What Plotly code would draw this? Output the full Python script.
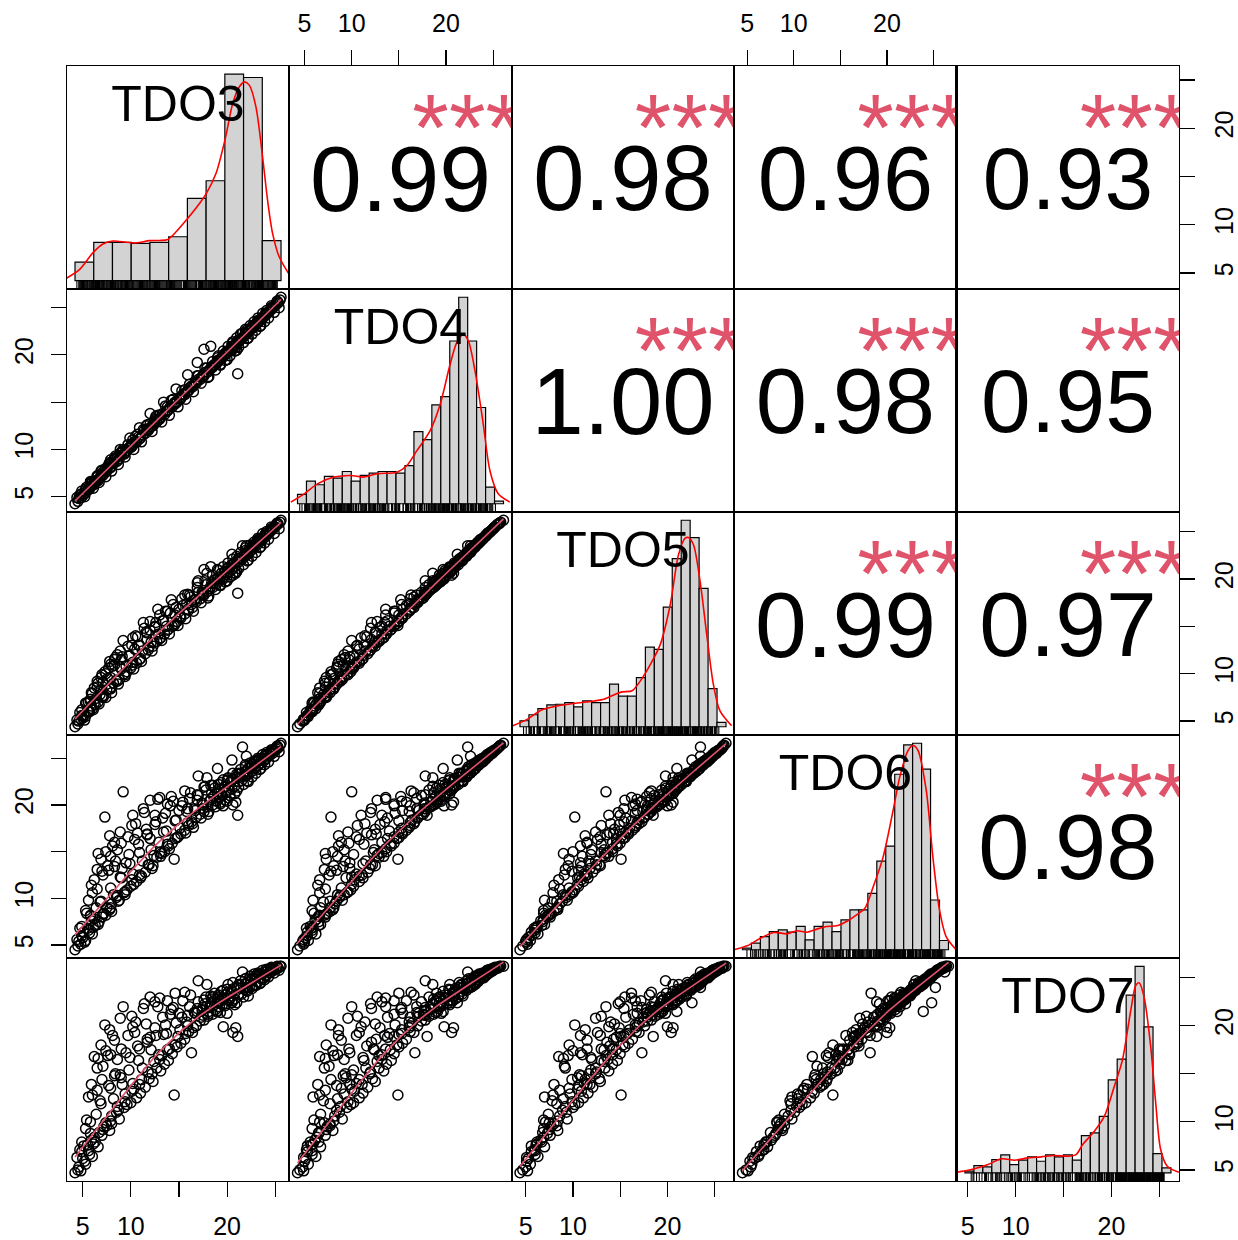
import numpy as np
import plotly.graph_objects as go

FONT = "Liberation Sans, Arial, sans-serif"

var_names = ["TDO3", "TDO4", "TDO5", "TDO6", "TDO7"]

# ---- observations (read/estimated from the scatter panels) ----
TDO3 = [4.2, 4.5, 4.6, 4.8, 5.0, 5.1, 5.3, 5.5, 5.7, 5.9,
        6.0, 6.2, 6.4, 6.6, 6.8, 7.0, 7.1, 7.2, 7.3, 7.5,
        7.6, 7.8, 7.9, 8.0, 8.2, 8.3, 8.5, 8.6, 8.8, 9.0,
        9.2, 9.3, 9.5, 9.6, 9.8, 10.0, 10.2, 10.4, 10.6, 10.8,
        11.0, 11.2, 11.4, 11.5, 11.7, 11.9, 12.1, 12.3, 12.5, 12.7,
        12.9, 13.1, 13.3, 13.5, 13.7, 13.9, 14.1, 14.3, 14.5, 14.6,
        14.8, 15.0, 15.2, 15.4, 15.6, 15.8, 16.0, 16.2, 16.4, 16.6,
        16.8, 17.0, 17.2, 17.4, 17.6, 17.8, 18.0, 18.2, 18.4, 18.5,
        18.7, 18.9, 19.0, 19.2, 19.4, 19.5, 19.7, 19.9, 20.0, 20.2,
        20.4, 20.5, 20.7, 20.8, 21.0, 21.1, 21.2, 21.3, 21.5, 21.6,
        21.8, 21.9, 22.0, 22.2, 22.3, 22.5, 22.6, 22.8, 22.9, 23.0,
        23.2, 23.3, 23.5, 23.6, 23.8, 23.9, 24.1, 24.2, 24.4, 24.5,
        24.7, 24.8, 25.0, 25.1, 25.3, 25.5, 25.6, 20.6, 20.9, 19.6,
        6.2, 6.9, 5.6, 8.1, 10.1, 12.0, 13.0, 21.4, 22.1, 23.1,
        24.0, 19.1, 20.1, 18.6, 17.5,
        4.4, 4.9, 5.2, 5.4, 5.8, 6.1, 6.5, 6.7, 7.0, 7.4,
        7.7, 8.0, 8.4, 8.7, 9.1, 9.4, 9.7, 10.3, 10.7, 11.1,
        11.6, 12.2, 12.6, 13.2, 13.6, 14.0, 14.4, 14.9, 15.3, 15.7,
        16.1, 16.5, 16.9, 17.3, 17.7, 18.1, 18.5, 18.8, 19.1, 19.3,
        19.6, 19.8, 20.1, 20.3, 20.6, 20.8, 21.0, 21.2, 21.4, 21.7,
        21.9, 22.1, 22.4, 22.6, 22.8, 23.0, 23.2, 23.4, 23.7, 23.9,
        24.1, 24.3, 24.6, 24.9, 25.2, 25.4, 22.0, 20.5, 19.0, 17.0,
        12.8, 11.3, 10.5, 8.9, 7.8, 6.5, 5.9, 5.3, 4.7, 16.3,
        16.9, 17.6, 18.3, 15.9, 14.7, 13.4, 12.0, 10.9, 9.9, 8.9,
        7.9, 6.9, 5.8, 4.9, 5.6, 6.3, 7.1, 7.9, 8.6, 9.4,
        10.1, 10.9, 11.8, 12.4, 13.0, 13.8, 14.6, 15.1, 15.9, 16.7,
        17.5, 18.3, 19.0, 19.8, 20.5, 21.2, 21.9, 22.6, 23.3, 24.0,
        24.6, 25.2, 20.0, 21.0, 22.2, 23.5, 19.3, 18.0, 9.0, 10.2,
        6.6, 7.4, 12.5, 13.8, 15.6, 17.9, 11.7, 8.3, 6.0, 14.2]
TDO4 = [4.25, 4.5, 4.8, 4.9, 5.1, 5.3, 5.4, 5.7, 5.8, 6.1,
        6.2, 6.3, 6.7, 6.7, 7.0, 7.2, 7.6, 7.4, 7.8, 7.7,
        8.1, 8.0, 8.5, 8.2, 8.5, 8.9, 8.7, 9.2, 9.0, 9.4,
        10.0, 9.5, 9.8, 9.9, 10.2, 10.2, 10.5, 10.8, 10.8, 11.3,
        11.2, 11.5, 12.0, 11.7, 12.1, 12.2, 12.4, 12.5, 13.0, 12.9,
        13.2, 13.4, 13.8, 13.7, 14.0, 14.2, 14.5, 14.5, 14.9, 15.0,
        15.0, 15.4, 15.4, 15.8, 15.8, 16.1, 16.2, 16.6, 16.6, 16.9,
        17.0, 17.4, 17.4, 17.7, 17.8, 18.2, 18.2, 18.4, 18.7, 18.7,
        19.0, 19.1, 19.3, 19.4, 19.7, 19.7, 20.0, 20.1, 20.3, 20.4,
        20.7, 20.7, 21.0, 21.0, 21.3, 18.0, 21.4, 21.6, 21.7, 22.3,
        22.0, 22.2, 22.2, 22.5, 22.5, 22.8, 22.8, 23.1, 23.1, 23.3,
        23.4, 23.6, 23.7, 23.9, 24.0, 24.2, 24.3, 24.5, 24.6, 24.8,
        24.9, 25.1, 25.2, 25.4, 25.5, 25.8, 26.1, 20.6, 20.8, 19.8,
        6.6, 7.3, 5.9, 8.6, 10.6, 12.7, 13.6, 21.6, 22.3, 23.4,
        24.2, 19.4, 20.4, 18.9, 17.8,
        4.9, 5.6, 5.0, 6.0, 6.5, 5.9, 7.2, 6.5, 7.8, 7.1,
        8.4, 7.7, 9.3, 8.4, 9.8, 9.2, 10.5, 10.0, 11.6, 10.8,
        12.5, 11.9, 13.5, 12.9, 14.6, 13.6, 15.3, 14.5, 16.2, 15.3,
        16.9, 16.1, 17.8, 17.0, 18.6, 17.7, 19.3, 18.4, 19.9, 18.9,
        20.4, 19.4, 20.9, 19.9, 21.4, 20.4, 21.8, 20.8, 22.2, 21.3,
        22.7, 21.7, 23.1, 22.2, 23.5, 22.6, 23.9, 23.0, 24.4, 23.5,
        24.7, 23.9, 25.2, 24.5, 25.7, 25.0, 22.6, 21.2, 19.7, 17.8,
        13.6, 12.1, 11.4, 9.6, 8.6, 7.1, 6.4, 5.8, 5.2, 16.7,
        19.2, 20.6, 20.9, 17.9, 16.4, 15.0, 13.8, 12.3, 11.2, 10.0,
        8.9, 7.7, 6.6, 5.3, 5.8, 6.5, 7.3, 8.1, 8.8, 9.6,
        10.3, 11.1, 12.0, 12.7, 13.2, 14.1, 14.8, 15.3, 16.2, 17.1,
        17.7, 18.6, 19.4, 20.2, 20.9, 21.6, 22.4, 23.0, 23.7, 24.4,
        25.0, 25.6, 19.5, 20.5, 21.8, 23.1, 19.0, 17.6, 9.7, 11.0,
        7.2, 8.0, 13.2, 14.5, 16.3, 18.6, 12.6, 9.1, 6.6, 15.2]
TDO5 = [4.4, 4.7, 5.0, 5.2, 5.3, 5.6, 5.5, 6.1, 6.0, 6.6,
        6.3, 6.9, 7.4, 7.0, 7.8, 7.6, 9.1, 7.7, 10.2, 8.3,
        9.5, 8.4, 11.0, 8.6, 9.0, 11.5, 9.3, 12.0, 9.4, 10.5,
        13.5, 10.0, 10.8, 10.2, 11.9, 10.6, 11.2, 12.6, 11.1, 13.0,
        11.6, 12.4, 14.8, 12.1, 13.6, 12.8, 13.3, 12.9, 14.9, 13.4,
        14.2, 13.8, 15.6, 14.2, 15.0, 14.7, 16.4, 15.0, 15.1, 16.2,
        15.5, 16.8, 15.9, 17.2, 16.3, 17.4, 16.7, 18.1, 17.0, 17.8,
        17.6, 18.6, 17.9, 18.6, 18.3, 19.4, 18.7, 19.0, 19.6, 19.1,
        19.9, 19.5, 20.0, 19.9, 20.6, 20.1, 20.7, 20.5, 21.1, 20.8,
        21.4, 21.0, 21.6, 21.3, 21.9, 18.5, 21.8, 22.2, 22.0, 23.5,
        22.4, 22.7, 22.5, 23.0, 22.8, 23.3, 23.1, 23.6, 23.4, 23.8,
        23.7, 24.1, 24.0, 24.3, 24.3, 24.6, 24.6, 24.9, 24.9, 25.1,
        25.2, 25.4, 25.5, 25.7, 25.8, 26.0, 26.2, 20.4, 20.6, 20.0,
        8.5, 9.6, 7.0, 10.8, 13.0, 15.5, 16.2, 22.1, 22.6, 23.9,
        24.5, 20.2, 21.2, 19.5, 18.5,
        5.1, 6.2, 5.1, 6.9, 7.3, 6.2, 8.6, 6.8, 9.9, 7.5,
        10.6, 8.0, 11.7, 8.9, 11.8, 9.7, 12.9, 10.5, 13.9, 11.3,
        14.4, 12.4, 15.4, 13.5, 16.6, 14.2, 17.3, 15.1, 17.9, 15.8,
        18.3, 16.6, 19.1, 17.5, 19.8, 18.2, 20.4, 18.9, 20.9, 19.3,
        21.3, 19.7, 21.7, 20.2, 22.1, 20.6, 22.4, 21.1, 22.8, 21.5,
        23.3, 21.9, 23.6, 22.4, 23.9, 22.8, 24.3, 23.3, 24.8, 23.8,
        25.0, 24.2, 25.5, 24.8, 25.9, 25.3, 23.5, 22.6, 21.0, 19.8,
        16.8, 15.4, 14.0, 12.4, 11.3, 9.2, 8.0, 6.9, 5.9, 17.3,
        19.6, 21.0, 21.3, 18.4, 17.0, 15.6, 14.6, 13.0, 11.9, 10.7,
        9.6, 8.3, 7.1, 5.6, 6.0, 6.7, 7.5, 8.4, 9.2, 9.9,
        10.9, 11.5, 12.5, 13.3, 13.7, 14.6, 15.3, 16.0, 16.8, 17.8,
        18.3, 19.2, 20.0, 20.8, 21.5, 22.2, 23.0, 23.5, 24.2, 24.8,
        25.3, 25.8, 19.8, 20.8, 22.0, 23.4, 19.4, 18.0, 11.5, 13.8,
        9.0, 10.0, 15.0, 16.6, 18.3, 20.6, 14.3, 10.9, 7.9, 17.8]
TDO6 = [4.5, 4.9, 5.4, 5.1, 5.8, 6.4, 5.5, 6.8, 6.3, 7.6,
        6.2, 7.8, 9.0, 7.2, 9.6, 8.0, 12.5, 8.4, 18.7, 9.0,
        13.5, 8.8, 14.5, 9.4, 10.4, 16.0, 10.1, 15.2, 9.8, 12.2,
        21.4, 10.6, 13.8, 10.9, 14.7, 11.3, 12.6, 16.3, 11.8, 15.8,
        12.2, 14.0, 19.2, 12.8, 16.8, 13.6, 15.2, 13.5, 17.9, 14.4,
        16.0, 14.5, 18.6, 15.0, 17.2, 15.6, 19.9, 15.9, 14.2, 18.3,
        16.5, 19.4, 16.9, 20.3, 17.3, 19.3, 17.8, 21.3, 18.0, 19.6,
        18.7, 21.0, 19.0, 20.2, 19.3, 21.6, 19.8, 20.4, 21.3, 20.0,
        21.8, 20.4, 21.2, 20.9, 22.4, 21.0, 21.9, 21.3, 22.6, 21.6,
        22.5, 21.7, 22.8, 22.0, 23.0, 18.9, 22.5, 23.3, 22.6, 26.2,
        23.1, 23.6, 23.1, 23.9, 23.4, 24.1, 23.6, 24.4, 23.9, 24.6,
        24.2, 24.8, 24.5, 25.0, 24.7, 25.2, 25.0, 25.4, 25.3, 25.6,
        25.5, 25.8, 25.8, 26.0, 26.1, 26.4, 26.6, 20.0, 20.3, 19.9,
        12.0, 14.2, 9.8, 15.6, 17.8, 20.5, 20.8, 23.0, 23.3, 24.7,
        24.9, 21.7, 22.9, 20.9, 20.0,
        5.6, 7.0, 5.3, 8.4, 8.1, 6.9, 11.0, 7.5, 12.9, 8.2,
        13.0, 8.6, 14.0, 9.7, 13.2, 10.4, 16.6, 11.5, 17.0, 12.4,
        17.4, 13.2, 18.2, 14.8, 19.1, 15.3, 20.4, 16.6, 19.9, 17.0,
        20.7, 17.6, 21.1, 18.6, 22.0, 19.3, 22.1, 19.8, 22.2, 20.1,
        22.7, 20.5, 22.8, 21.0, 23.4, 21.2, 23.3, 21.9, 23.8, 22.2,
        24.3, 22.6, 24.5, 23.0, 24.7, 23.4, 25.0, 23.8, 25.4, 24.3,
        25.6, 24.6, 25.9, 25.2, 26.3, 25.7, 25.2, 24.8, 23.9, 23.1,
        20.6, 19.6, 18.0, 17.1, 16.7, 13.1, 11.4, 8.7, 6.8, 18.2,
        20.5, 21.9, 22.1, 19.6, 18.4, 17.1, 16.4, 14.9, 13.7, 12.3,
        11.1, 9.7, 8.2, 6.0, 6.6, 7.1, 8.3, 9.0, 10.3, 10.7,
        12.0, 12.5, 13.6, 14.6, 14.9, 15.8, 16.4, 17.5, 18.1, 19.4,
        19.6, 20.6, 21.4, 22.0, 22.7, 23.4, 24.1, 24.4, 24.9, 25.4,
        25.8, 26.2, 20.4, 21.5, 22.5, 23.9, 20.3, 19.0, 15.9, 18.9,
        14.8, 15.0, 18.9, 20.1, 21.5, 22.9, 16.9, 13.4, 10.6, 20.9]
TDO7 = [4.7, 5.0, 5.3, 4.9, 6.2, 7.5, 5.6, 7.6, 6.6, 8.1,
        6.4, 8.4, 10.8, 7.4, 12.2, 8.6, 15.8, 9.5, 20.1, 9.6,
        16.9, 9.1, 17.0, 10.6, 12.4, 18.5, 11.0, 16.5, 10.3, 14.6,
        22.0, 11.5, 17.2, 11.8, 15.4, 12.0, 14.0, 19.3, 12.5, 16.4,
        13.0, 15.6, 22.3, 13.6, 18.3, 14.5, 17.5, 14.2, 19.8, 15.6,
        17.0, 15.3, 20.9, 16.0, 19.2, 16.4, 21.2, 17.1, 12.8, 23.4,
        17.8, 21.3, 18.2, 22.6, 18.6, 20.4, 19.4, 23.2, 19.3, 21.4,
        20.0, 22.5, 20.5, 21.6, 20.6, 23.0, 21.0, 21.9, 22.8, 21.2,
        23.4, 21.5, 22.4, 22.0, 23.6, 22.2, 22.9, 22.3, 23.8, 22.6,
        23.4, 22.6, 23.9, 22.8, 24.0, 18.9, 23.3, 24.2, 23.3, 25.6,
        23.8, 24.4, 23.7, 24.6, 24.0, 24.7, 24.1, 25.0, 24.3, 25.1,
        24.6, 25.3, 24.9, 25.4, 25.0, 25.6, 25.3, 25.7, 25.5, 25.9,
        25.7, 26.0, 25.9, 26.1, 26.0, 26.2, 26.2, 19.3, 19.8, 19.9,
        16.8, 18.0, 12.6, 19.0, 21.0, 23.0, 22.9, 23.9, 24.0, 25.2,
        25.2, 23.0, 24.3, 22.6, 21.9,
        6.3, 7.9, 5.9, 10.2, 8.8, 7.7, 13.3, 8.9, 14.4, 9.9,
        13.8, 9.8, 15.0, 11.2, 13.9, 12.9, 19.0, 13.4, 17.9, 14.4,
        20.2, 15.0, 19.0, 16.9, 20.1, 17.6, 21.9, 18.9, 20.9, 19.2,
        22.0, 19.8, 21.5, 20.9, 22.3, 21.5, 23.0, 21.7, 23.2, 21.4,
        23.7, 22.1, 23.5, 22.9, 24.5, 22.2, 24.0, 23.3, 24.7, 23.0,
        24.9, 23.6, 25.2, 23.9, 25.4, 24.2, 25.5, 24.4, 25.8, 24.8,
        25.9, 25.1, 26.1, 25.5, 26.2, 25.8, 24.0, 22.4, 21.5, 24.7,
        22.0, 21.8, 20.4, 20.8, 19.6, 15.6, 13.9, 9.3, 7.1, 17.2,
        21.8, 22.7, 23.1, 21.1, 20.3, 19.1, 18.8, 17.6, 16.7, 14.9,
        13.5, 11.9, 10.0, 6.9, 7.0, 7.9, 9.2, 10.1, 11.6, 12.1,
        13.2, 13.9, 15.2, 16.3, 16.5, 17.5, 18.0, 19.6, 20.0, 21.3,
        21.1, 22.3, 22.8, 23.2, 23.6, 24.3, 24.9, 25.0, 25.4, 25.8,
        26.0, 26.1, 21.3, 22.4, 23.1, 24.5, 22.6, 21.2, 17.6, 19.9,
        16.6, 17.4, 22.5, 22.6, 23.5, 24.3, 18.6, 14.8, 12.8, 21.7]

# ---- upper panels: correlation text (row-major order) ----
corr_labels = ["0.99", "0.98", "0.96", "0.93", "1.00", "0.98", "0.95", "0.99", "0.97", "0.98"]
corr_values = [0.99, 0.98, 0.96, 0.93, 1.00, 0.98, 0.95, 0.99, 0.97, 0.98]
corr_stars = ["***"] * 10

axis_tick_values = [5, 10, 15, 20, 25]
axis_tick_labels = ["5", "10", "", "20", ""]

# ---- diagonal histograms (relative density, tallest bar = 100) ----
hist_first_break = [4, 4, 4, 4, 4]
hist_bin_width = [2, 1, 1, 1, 1]
hist_TDO3 = [9.0, 18.6, 18.6, 18.1, 18.6, 21.3, 39.9, 48.4, 100.0, 98.4, 19.4]
hist_TDO4 = [4.5, 10.9, 9.2, 13.2, 12.4, 15.6, 10.9, 13.7, 14.8, 15.6, 15.6, 14.8,
             18.5, 34.9, 31.0, 47.9, 51.9, 78.8, 100.0, 78.8, 46.6, 8.0, 1.3]
hist_TDO5 = [2.9, 5.8, 8.8, 10.6, 10.9, 11.7, 9.6, 12.5, 11.7, 11.7, 20.6, 14.8,
             14.8, 23.8, 38.6, 37.5, 57.9, 81.4, 100.0, 91.6, 67.0, 18.5, 2.1]
hist_TDO6 = [0.8, 3.2, 6.4, 8.8, 9.6, 8.5, 11.3, 4.8, 11.3, 13.4, 8.8, 14.5,
             19.3, 19.3, 27.3, 42.9, 50.2, 85.0, 99.2, 100.0, 87.5, 24.1, 4.5]
hist_TDO7 = [0.8, 3.5, 2.9, 6.4, 8.7, 4.0, 6.1, 7.7, 5.6, 8.7, 7.7, 8.7,
             6.1, 18.0, 19.3, 27.3, 45.0, 55.0, 86.0, 100.0, 70.7, 9.3, 2.4]

dens_x_TDO3 = [3.08, 4.5, 5.92, 6.99, 8.05, 9.47, 10.54, 11.96, 13.02, 13.91, 14.8, 16.04, 17.29,
               18.03, 19.06, 20.05, 20.84, 21.55, 22.08, 22.61, 23.32, 24.03, 24.56, 25.1, 25.8, 26.8]
dens_y_TDO3 = [1.2, 5.5, 13.6, 17.8, 19.2, 18.6, 18.3, 19.4, 19.5, 20.0, 23.7, 30.2, 37.4,
               42.3, 52.0, 68.9, 85.8, 93.9, 96.3, 94.7, 84.2, 60.0, 39.1, 22.9, 11.6, 3.6]
dens_x_TDO4 = [3.26, 4.74, 6.22, 8.08, 9.93, 11.41, 12.89, 15.11, 16.22, 17.33, 18.81, 19.93,
               21.04, 21.78, 22.52, 23.08, 23.82, 24.74, 25.48, 26.41, 27.7]
dens_y_TDO4 = [0.8, 4.8, 9.6, 12.9, 13.7, 12.9, 14.5, 15.3, 18.5, 25.7, 35.4, 48.2,
               67.5, 78.0, 82.0, 78.8, 64.3, 38.6, 16.1, 4.8, 0.8]
dens_x_TDO5 = [3.19, 4.85, 6.33, 8.19, 10.04, 12.26, 13.37, 14.48, 15.41, 16.52, 17.44, 18.56,
               19.67, 20.78, 21.7, 22.44, 22.81, 23.37, 24.11, 24.85, 25.59, 26.33, 27.63]
dens_y_TDO5 = [0.5, 3.7, 8.0, 10.1, 11.3, 12.5, 13.3, 15.4, 16.9, 17.4, 22.2, 30.2,
               39.9, 59.2, 83.3, 91.3, 91.6, 88.1, 70.4, 44.7, 20.6, 7.7, 0.5]
dens_x_TDO6 = [3.04, 4.52, 6.0, 7.49, 8.97, 10.08, 11.19, 12.3, 13.41, 14.52, 15.63, 16.74, 17.67,
               18.6, 19.71, 20.82, 21.56, 22.49, 23.04, 23.6, 24.52, 25.26, 26.0, 26.74, 27.86]
dens_y_TDO6 = [0.0, 1.9, 5.6, 8.4, 7.7, 9.2, 8.5, 10.0, 11.3, 11.6, 13.7, 16.9, 20.1,
               30.5, 45.0, 67.5, 83.6, 96.5, 98.9, 96.5, 77.2, 45.0, 19.3, 6.4, 0.0]
dens_x_TDO7 = [3.08, 4.74, 6.59, 8.08, 9.56, 11.04, 12.52, 14.0, 15.48, 16.41, 17.15, 18.45,
               19.56, 20.67, 21.59, 22.52, 23.08, 23.45, 24.0, 24.74, 25.3, 25.85, 26.59, 27.89]
dens_y_TDO7 = [0.3, 1.6, 4.0, 6.8, 6.1, 7.2, 7.7, 8.4, 8.0, 8.8, 13.7, 20.1,
               27.3, 41.8, 54.7, 78.8, 90.8, 92.0, 85.2, 61.1, 33.8, 11.3, 3.2, 0.3]

data = [TDO3, TDO4, TDO5, TDO6, TDO7]
hists = [hist_TDO3, hist_TDO4, hist_TDO5, hist_TDO6, hist_TDO7]
dens_x = [dens_x_TDO3, dens_x_TDO4, dens_x_TDO5, dens_x_TDO6, dens_x_TDO7]
dens_y = [dens_y_TDO3, dens_y_TDO4, dens_y_TDO5, dens_y_TDO6, dens_y_TDO7]

# ---- geometry / style ----
W, H = 1238, 1240
X_EDGES = [67.0, 290.2, 513.4, 736.6, 959.8, 1183.0]
Y_EDGES = [66.0, 289.2, 512.4, 735.6, 958.8, 1182.0]
PANEL = 223.2
LW = 1.2
TICKFONT = dict(family=FONT, size=25, color="black")
SMOOTH_COL = "#DF536B"
BASE_CEX = 94
LABEL_SIZE = 50
NUM_SHIFT = 0.108  # plotly 'middle' text: cap centre sits this many em above anchor


def lowess(x, y, f=2 / 3, it=3):
    x = np.asarray(x, float)
    y = np.asarray(y, float)
    o = np.argsort(x, kind="mergesort")
    x, y = x[o], y[o]
    n = len(x)
    r = int(np.ceil(f * n))
    h = np.array([np.sort(np.abs(x - x[i]))[r - 1] for i in range(n)])
    h[h == 0] = 1e-9
    w = np.clip(np.abs((x[:, None] - x[None, :]) / h[:, None]), 0, 1)
    w = (1 - w ** 3) ** 3
    yest = np.zeros(n)
    delta = np.ones(n)
    for _ in range(it + 1):
        for i in range(n):
            wt = delta * w[i, :]
            A = np.array([[wt.sum(), (wt * x).sum()], [(wt * x).sum(), (wt * x * x).sum()]])
            b = np.array([(wt * y).sum(), (wt * y * x).sum()])
            beta = np.linalg.lstsq(A, b, rcond=None)[0]
            yest[i] = beta[0] + beta[1] * x[i]
        res = y - yest
        s = np.median(np.abs(res))
        d = np.clip(res / (6 * s), -1, 1)
        delta = (1 - d ** 2) ** 2
    return x, yest


def rng(v):
    lo, hi = min(v), max(v)
    d = 0.04 * (hi - lo)
    return [lo - d, hi + d]


def frac(r, f):
    return r[0] + f * (r[1] - r[0])


def sfx(k):
    return "" if k == 1 else str(k)


def xdomain(j):
    return [X_EDGES[j] / W, X_EDGES[j + 1] / W]


def ydomain(i):
    return [1 - Y_EDGES[i + 1] / H, 1 - Y_EDGES[i] / H]


fig = go.Figure()
layout = {}

# histogram axes get ids 1..5 (drawn first), panel frames get ids 6..30
for d in range(5):
    hb = hists[d]
    b0 = hist_first_break[d]
    bw = hist_bin_width[d]
    b1 = b0 + bw * len(hb)
    M = max(hb)
    o = d + 1
    layout["xaxis" + sfx(o)] = dict(domain=xdomain(d), anchor="y" + sfx(o),
                                    range=[b0 - 0.04 * (b1 - b0), b1 + 0.04 * (b1 - b0)],
                                    visible=False, fixedrange=True)
    layout["yaxis" + sfx(o)] = dict(domain=ydomain(d), anchor="x" + sfx(o),
                                    range=[-0.04 * M, 1.04 * M], visible=False, fixedrange=True)
    centers = [b0 + bw * (n + 0.5) for n in range(len(hb))]
    fig.add_trace(go.Bar(
        x=centers, y=hb, width=[bw] * len(hb), xaxis="x" + sfx(o), yaxis="y" + sfx(o),
        marker=dict(color="#D3D3D3", line=dict(color="black", width=1.2)), hoverinfo="skip"))
    fig.add_trace(go.Scatter(
        x=dens_x[d], y=dens_y[d], mode="lines", xaxis="x" + sfx(o), yaxis="y" + sfx(o),
        line=dict(color="red", width=1.6, shape="spline", smoothing=0.8),
        hoverinfo="skip", cliponaxis=True))
    rug_y = -0.04 * M + (3.4 / PANEL) * 1.08 * M
    fig.add_trace(go.Scatter(
        x=data[d], y=[rug_y] * len(data[d]), mode="markers",
        xaxis="x" + sfx(o), yaxis="y" + sfx(o),
        marker=dict(symbol="line-ns-open", size=7, color="black",
                    line=dict(width=1.1, color="black")),
        hoverinfo="skip", cliponaxis=True))

pairs_upper = [(a, b) for a in range(5) for b in range(5) if b > a]

for i in range(5):
    for j in range(5):
        k = 6 + 5 * i + j
        xr = rng(data[j])
        yr = rng(data[i])
        xa = dict(domain=xdomain(j), range=xr,
                  anchor="y%d" % k, showgrid=False, zeroline=False, showline=True,
                  mirror=True, linecolor="black", linewidth=LW, ticks="",
                  showticklabels=False, fixedrange=True)
        ya = dict(domain=ydomain(i), range=yr,
                  anchor="x%d" % k, showgrid=False, zeroline=False, showline=True,
                  mirror=True, linecolor="black", linewidth=LW, ticks="",
                  showticklabels=False, fixedrange=True)
        tick_common = dict(ticks="outside", ticklen=15, tickwidth=LW, tickcolor="black",
                           tickmode="array", tickvals=axis_tick_values,
                           ticktext=axis_tick_labels, showticklabels=True, tickfont=TICKFONT,
                           ticklabelstandoff=8)
        if i == 0 and j in (1, 3):
            xa.update(side="top", **tick_common)
        if i == 4 and j in (0, 2, 4):
            xa.update(side="bottom", **tick_common)
        if j == 0 and i in (1, 3):
            ya.update(side="left", tickangle=-90, **tick_common)
        if j == 4 and i in (0, 2, 4):
            ya.update(side="right", tickangle=-90, **tick_common)
        layout["xaxis%d" % k] = xa
        layout["yaxis%d" % k] = ya
        xref, yref = "x%d" % k, "y%d" % k

        if i > j:
            fig.add_trace(go.Scatter(
                x=data[j], y=data[i], mode="markers", xaxis=xref, yaxis=yref,
                marker=dict(symbol="circle-open", size=10, color="black", line=dict(width=1.5)),
                hoverinfo="skip", cliponaxis=True))
            sx, sy = lowess(data[j], data[i])
            fig.add_trace(go.Scatter(
                x=sx, y=sy, mode="lines", xaxis=xref, yaxis=yref,
                line=dict(color=SMOOTH_COL, width=1.6), hoverinfo="skip"))
        elif i == j:
            fig.add_trace(go.Scatter(
                x=[frac(xr, 0.5)], y=[frac(yr, 0.833 - NUM_SHIFT * LABEL_SIZE / PANEL)],
                mode="text", text=[var_names[i]], textposition="middle center",
                xaxis=xref, yaxis=yref,
                textfont=dict(family=FONT, size=LABEL_SIZE, color="black"),
                hoverinfo="skip", cliponaxis=True))
        else:
            n = pairs_upper.index((i, j))
            size = BASE_CEX * abs(corr_values[n])
            fig.add_trace(go.Scatter(
                x=[frac(xr, 0.5)], y=[frac(yr, 0.5 - NUM_SHIFT * size / PANEL)],
                mode="text", text=[corr_labels[n]], textposition="middle center",
                xaxis=xref, yaxis=yref,
                textfont=dict(family=FONT, size=size, color="black"),
                hoverinfo="skip", cliponaxis=True))
            fig.add_trace(go.Scatter(
                x=[frac(xr, 0.8)], y=[frac(yr, 0.684)],
                mode="text", text=[corr_stars[n]], textposition="middle center",
                xaxis=xref, yaxis=yref,
                textfont=dict(family=FONT, size=BASE_CEX, color=SMOOTH_COL),
                hoverinfo="skip", cliponaxis=True))

fig.update_layout(
    width=W, height=H, margin=dict(l=0, r=0, t=0, b=0, pad=0),
    paper_bgcolor="white", plot_bgcolor="rgba(0,0,0,0)", showlegend=False,
    hovermode=False, barmode="overlay",
    font=dict(family=FONT, color="black"),
    **layout)

fig.write_html("out.html", include_plotlyjs=True, full_html=True,
               config={"displayModeBar": False, "staticPlot": True},
               post_script="document.body.style.margin='0px';document.body.style.overflow='hidden';")
